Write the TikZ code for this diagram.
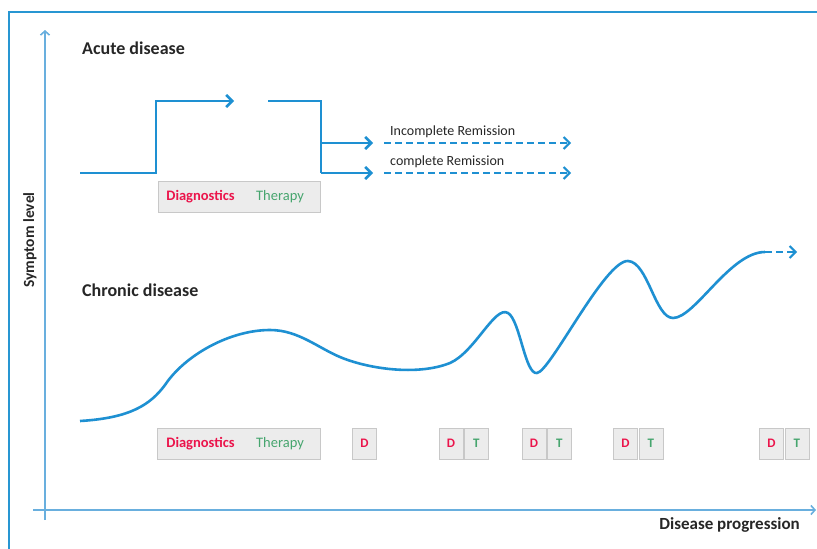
\documentclass[tikz,border=0pt]{standalone}
\usepackage{fontspec}
\setmainfont{Carlito}
\usetikzlibrary{arrows.meta}
\definecolor{FrameBlue}{RGB}{40,150,210}
\definecolor{AxisBlue}{RGB}{105,175,222}
\definecolor{CurveBlue}{RGB}{30,144,210}
\definecolor{DiagRed}{RGB}{235,20,75}
\definecolor{TherGreen}{RGB}{70,165,110}
\definecolor{BoxGray}{RGB}{236,236,236}
\definecolor{BoxBorder}{RGB}{200,200,200}

\begin{document}
\begin{tikzpicture}[x=1pt, y=-1pt,
  flow/.style={draw=CurveBlue, line width=2.6pt, -{Straight Barb[length=6pt,width=12pt]}},
  later/.style={flow, line width=2pt, dash pattern=on 7pt off 4pt},
  axis/.style={draw=AxisBlue, line width=1.6pt, -{Straight Barb[length=4pt,width=9pt]}},
  heading/.style={anchor=west, inner sep=0pt, font=\fontsize{18}{21}\selectfont\bfseries, text=black!85},
  note/.style={anchor=west, inner sep=0pt, font=\fontsize{14}{16}\selectfont, text=black!85},
  tagbox/.style={draw=BoxBorder, fill=BoxGray, minimum height=31pt, inner sep=0pt},
  diag/.style={text=DiagRed, font=\fontsize{14.5}{16}\selectfont\bfseries},
  ther/.style={text=TherGreen, font=\fontsize{14.5}{16}\selectfont},
  dtag/.style={tagbox, minimum width=24pt, font=\fontsize{13}{15}\selectfont\bfseries}]
\useasboundingbox (0,0) rectangle (817,549);
\pgfmathsetmacro{\ylow}{173} % acute base level
\pgfmathsetmacro{\yhigh}{101} % acute high level
\pgfmathsetmacro{\ytag}{443.5} % row of the chronic D/T tags

\draw[draw=FrameBlue, line width=1.5pt] (9,560) -- (9,12) -- (830,12); %border

% axes
\coordinate (yfoot) at (45,520);
\coordinate (ytop) at (45,30);
\coordinate (xfoot) at (33,510);
\coordinate (xend) at (816,510);
\draw[axis] (yfoot) -- (ytop);
\draw[axis] (xfoot) -- (xend);
\node[rotate=90, font=\fontsize{15.5}{18}\selectfont\bfseries, text=black!85] (ylabel) at (30,240) {Symptom level};
\node[anchor=east, inner sep=0pt, font=\fontsize{17}{20}\selectfont\bfseries, text=black!85] (xlabel) at (800,525) {Disease progression};

% acute disease
\node[heading] (acute) at (82,48) {Acute disease};
\coordinate (a0) at (80,\ylow);
\coordinate (a1) at (156,\ylow);
\coordinate (a2) at (156,\yhigh);
\coordinate (a3) at (234,\yhigh);
\coordinate (b0) at (268,\yhigh);
\coordinate (b1) at (321,\yhigh);
\coordinate (b2) at (321,\ylow);
\coordinate (inc0) at (321,143);
\coordinate (inc1) at (373,143);
\coordinate (com1) at (373,\ylow);
\coordinate (inc2) at (384,143);
\coordinate (inc3) at (571,143);
\coordinate (com2) at (384,\ylow);
\coordinate (com3) at (571,\ylow);
\draw[flow] (a0) -- (a1) -- (a2) -- (a3);
\draw[draw=CurveBlue, line width=2.6pt] (b0) -- (b1) -- (b2);
\draw[flow] (inc0) -- (inc1);
\draw[flow] (b2) -- (com1);
\draw[later] (inc2) -- (inc3);
\draw[later] (com2) -- (com3);
\node[note] (incnote) at (390,132) {Incomplete Remission};
\node[note] (comnote) at (390,162) {complete Remission};

\node[tagbox, minimum width=162pt] (acutebox) at (239,196.5) {}; % diagnostics + therapy
\node[diag] (acutediag) at (200.5,197) {Diagnostics};
\node[ther] (acuteth) at (280,197) {Therapy};

% chronic disease
\node[heading] (chronic) at (82,290) {Chronic disease};
\coordinate (cstart) at (80,421);
\coordinate (cend) at (765,252);
\coordinate (ctip) at (797,252);
\draw[draw=CurveBlue, line width=2.6pt, line join=round] (cstart)
  .. controls (130,418) and (150,405) .. (165,385)
  .. controls (185,355) and (230,330) .. (270,330) % first wave
  .. controls (300,330) and (320,350) .. (345,359)
  .. controls (375,370) and (420,375) .. (450,363)
  .. controls (475,352) and (495,305) .. (508,313) % relapse
  .. controls (520,320) and (525,375) .. (537,373)
  .. controls (550,372) and (605,260) .. (628,261) % relapse
  .. controls (648,262) and (655,318) .. (673,318)
  .. controls (695,318) and (730,252) .. (cend);
\draw[later] (cend) -- (ctip);

\node[tagbox, minimum width=163pt] (chronbox) at (238.5,\ytag) {}; % diagnostics + therapy
\node[diag] (chrondiag) at (200.5,\ytag) {Diagnostics};
\node[ther] (chronth) at (280,\ytag) {Therapy};

\node[dtag, text=DiagRed] (d1) at (364.5,\ytag) {D};
\foreach \xd/\n in {451/2, 534/3, 625.5/4, 771.5/5} {
  \node[dtag, text=DiagRed] (d\n) at (\xd,\ytag) {D};
  \node[dtag, text=TherGreen, anchor=west] (t\n) at ([xshift=1pt]d\n.east) {T};
}
\end{tikzpicture}
\end{document}
